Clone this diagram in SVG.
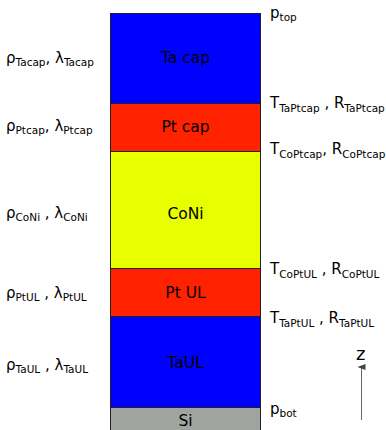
<svg xmlns="http://www.w3.org/2000/svg" width="386" height="430" viewBox="0 0 386 430">
<style>
text{font-family:"DejaVu Sans",sans-serif;fill:#000}
.lbl{font-size:15px}
.sub{font-size:10.5px}
.rsub{font-size:10.5px}
.layer{stroke:#222;stroke-width:1}
.name{font-size:15.5px;text-anchor:middle}
</style>
<defs>
<marker id="ah" markerWidth="6" markerHeight="8" refX="3" refY="4" orient="auto-start-reverse" markerUnits="userSpaceOnUse">
<path d="M0,8 L3,0 L6,8 Z" fill="#444"/>
</marker>
</defs>
<rect width="386" height="430" fill="#fff"/>
<g id="tacap"><rect class="layer" x="110.5" y="13.5" width="150" height="90" fill="#0000ff"/><text class="name" x="185.5" y="63">Ta cap</text></g>
<g id="ptcap"><rect class="layer" x="110.5" y="103.5" width="150" height="48" fill="#ff2200"/><text class="name" x="185.5" y="132">Pt cap</text></g>
<g id="coni"><rect class="layer" x="110.5" y="151.5" width="150" height="117" fill="#e8ff00"/><text class="name" x="185.5" y="219">CoNi</text></g>
<g id="ptul"><rect class="layer" x="110.5" y="268.5" width="150" height="48" fill="#ff2200"/><text class="name" x="185.5" y="298">Pt UL</text></g>
<g id="taul"><rect class="layer" x="110.5" y="316.5" width="150" height="91" fill="#0000ff"/><text class="name" x="185.5" y="368">TaUL</text></g>
<g id="si"><rect class="layer" x="110.5" y="407.5" width="150" height="24" fill="#a0a4a0"/><text class="name" x="185.5" y="426">Si</text></g>
<g id="left-labels">
<text class="lbl" x="6" y="63">ρ<tspan class="sub" dy="3">Tacap</tspan><tspan dy="-3">, λ</tspan><tspan class="sub" dy="3">Tacap</tspan></text>
<text class="lbl" x="6" y="131">ρ<tspan class="sub" dy="3">Ptcap</tspan><tspan dy="-3">, λ</tspan><tspan class="sub" dy="3">Ptcap</tspan></text>
<text class="lbl" x="6" y="218">ρ<tspan class="sub" dy="3">CoNi</tspan><tspan dy="-3"> , λ</tspan><tspan class="sub" dy="3">CoNi</tspan></text>
<text class="lbl" x="6" y="298">ρ<tspan class="sub" dy="3">PtUL</tspan><tspan dy="-3"> , λ</tspan><tspan class="sub" dy="3">PtUL</tspan></text>
<text class="lbl" x="6" y="370">ρ<tspan class="sub" dy="3">TaUL</tspan><tspan dy="-3"> , λ</tspan><tspan class="sub" dy="3">TaUL</tspan></text>
</g>
<g id="right-labels">
<text class="lbl" x="270" y="18">p<tspan class="sub" dy="3">top</tspan></text>
<text class="lbl" x="270" y="108">T<tspan class="rsub" dy="4">TaPtcap</tspan><tspan dy="-4"> , R</tspan><tspan class="rsub" dy="4">TaPtcap</tspan></text>
<text class="lbl" x="270" y="154">T<tspan class="rsub" dy="4">CoPtcap</tspan><tspan dy="-4">, R</tspan><tspan class="rsub" dy="4">CoPtcap</tspan></text>
<text class="lbl" x="270" y="274">T<tspan class="rsub" dy="4">CoPtUL</tspan><tspan dy="-4"> , R</tspan><tspan class="rsub" dy="4">CoPtUL</tspan></text>
<text class="lbl" x="270" y="323">T<tspan class="rsub" dy="4">TaPtUL</tspan><tspan dy="-4"> , R</tspan><tspan class="rsub" dy="4">TaPtUL</tspan></text>
<text class="lbl" x="270" y="414">p<tspan class="sub" dy="3">bot</tspan></text>
<text x="356" y="360" style="font-size:18px">z</text>
</g>
<g id="connectors">
<line x1="361.5" y1="420" x2="361.5" y2="367" stroke="#666" stroke-width="1" marker-end="url(#ah)"/>
</g>
</svg>
